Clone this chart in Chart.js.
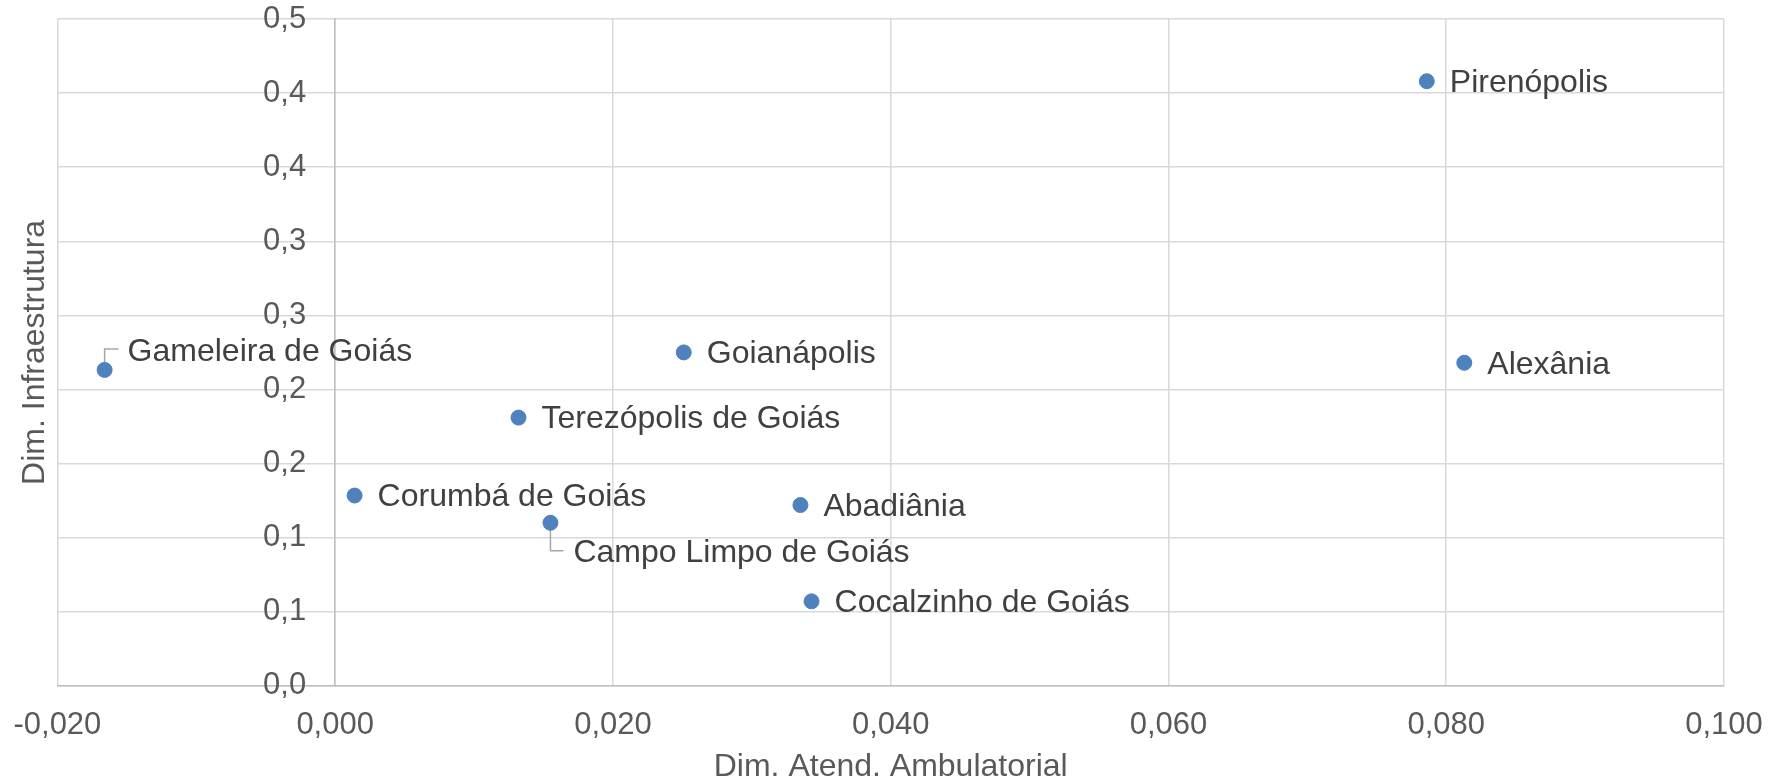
<!DOCTYPE html>
<html>
<head>
<meta charset="utf-8">
<script src="https://cdn.jsdelivr.net/npm/chart.js@4"></script>
<style>
  html, body { margin: 0; padding: 0; background: #fff; }
  #wrap { width: 1783px; height: 783px; position: relative; }
</style>
</head>
<body>
<div id="wrap"><canvas id="myChart"></canvas></div>
<script>
// municipalities and their scores
const cities = [
    'Pirenópolis', 'Alexânia', 'Gameleira de Goiás', 'Goianápolis',
    'Terezópolis de Goiás', 'Corumbá de Goiás', 'Campo Limpo de Goiás',
    'Abadiânia', 'Cocalzinho de Goiás'
];
const atendAmbulatorial = [0.0786, 0.0813, -0.0166, 0.0251, 0.0132, 0.0014, 0.0155, 0.0335, 0.0343];
const infraestrutura    = [0.408, 0.218, 0.2132, 0.225, 0.181, 0.1284, 0.110, 0.122, 0.057];

// tick labels as printed on the axes
const xTickLabels = ['-0,020', '0,000', '0,020', '0,040', '0,060', '0,080', '0,100'];
const yTickLabels = ['0,0', '0,1', '0,1', '0,2', '0,2', '0,3', '0,3', '0,4', '0,4', '0,5'];

const FONT = "'Liberation Sans', Arial, sans-serif";

// label placement: default is right of the point, a couple are moved with a leader line
const labelOffsets = {
    'Gameleira de Goiás': { dx: 23, dy: -18, leader: [[0, 0], [0, -21], [14, -21]] },
    'Campo Limpo de Goiás': { dx: 23, dy: 30, leader: [[0, 0], [0, 28], [13, 28]] }
};

// y axis crosses at x = 0, Chart.js ignores tick padding there so labels are drawn here
const yAxisLabels = {
    id: 'yAxisLabels',
    afterDraw(chart) {
        const ctx = chart.ctx;
        const xs = chart.scales.x;
        const ys = chart.scales.y;
        const axisX = xs.getPixelForValue(0);
        ctx.save();
        ctx.font = '31px ' + FONT;
        ctx.fillStyle = '#595959';
        ctx.textAlign = 'right';
        ctx.textBaseline = 'middle';
        ys.ticks.forEach((t, i) => {
            ctx.fillText(yTickLabels[i], axisX - 29, ys.getPixelForValue(t.value));
        });
        ctx.restore();
    }
};

const pointLabels = {
    id: 'pointLabels',
    beforeDatasetsDraw(chart) {
        const ctx = chart.ctx;
        const meta = chart.getDatasetMeta(0);
        ctx.save();
        ctx.strokeStyle = '#a6a6a6';
        ctx.lineWidth = 1.5;
        meta.data.forEach((pt, i) => {
            const off = labelOffsets[cities[i]];
            if (!off) return;
            ctx.beginPath();
            off.leader.forEach(([lx, ly], k) => {
                if (k === 0) ctx.moveTo(pt.x + lx, pt.y + ly);
                else ctx.lineTo(pt.x + lx, pt.y + ly);
            });
            ctx.stroke();
        });
        ctx.restore();
    },
    afterDatasetsDraw(chart) {
        const ctx = chart.ctx;
        const meta = chart.getDatasetMeta(0);
        ctx.save();
        ctx.font = '32px ' + FONT;
        ctx.fillStyle = '#404040';
        ctx.textAlign = 'left';
        ctx.textBaseline = 'middle';
        meta.data.forEach((pt, i) => {
            const off = labelOffsets[cities[i]] || { dx: 23, dy: 2 };
            ctx.fillText(cities[i], pt.x + off.dx, pt.y + off.dy);
        });
        ctx.restore();
    }
};

const chart = new Chart(document.getElementById('myChart'), {
    type: 'scatter',
    data: {
        datasets: [{
            label: 'Municípios',
            data: cities.map((c, i) => ({ x: atendAmbulatorial[i], y: infraestrutura[i] })),
            backgroundColor: '#4f81bd',
            borderColor: '#4f81bd',
            pointRadius: 7.5,
            pointHoverRadius: 7.5,
            xAxisID: 'x',
            yAxisID: 'y'
        }]
    },
    options: {
        responsive: true,
        maintainAspectRatio: false,
        animation: false,
        layout: {
            padding: { top: 19, right: 59, bottom: 0, left: 0 }
        },
        plugins: {
            legend: { display: false },
            tooltip: { enabled: false }
        },
        scales: {
            x: {
                type: 'linear',
                position: 'bottom',
                min: -0.02,
                max: 0.1,
                ticks: {
                    stepSize: 0.02,
                    padding: 0,
                    color: '#595959',
                    font: { family: FONT, size: 31 },
                    maxRotation: 0,
                    callback: (value, index) => xTickLabels[index]
                },
                grid: {
                    color: '#d9d9d9', lineWidth: 1.5,
                    drawTicks: true, tickLength: 21, tickColor: 'rgba(0,0,0,0)'
                },
                border: { display: true, color: '#bfbfbf', width: 1.5 },
                title: {
                    display: true,
                    text: 'Dim. Atend. Ambulatorial',
                    color: '#595959',
                    font: { family: FONT, size: 32, lineHeight: 1 },
                    padding: { top: 7, bottom: 0 }
                }
            },
            y: {
                type: 'linear',
                position: { x: 0 },
                min: 0,
                max: 0.45,
                ticks: { stepSize: 0.05, display: false },
                grid: { color: '#d9d9d9', lineWidth: 1.5, drawTicks: false },
                border: { display: true, color: '#bfbfbf', width: 1.5 }
            },
            yTitle: {
                type: 'linear',
                position: 'left',
                ticks: { display: false },
                grid: { display: false, drawTicks: false },
                border: { display: false },
                title: {
                    display: true,
                    text: 'Dim. Infraestrutura',
                    color: '#595959',
                    font: { family: FONT, size: 32 },
                    padding: { top: 16, bottom: 3 }
                }
            }
        }
    },
    plugins: [pointLabels, yAxisLabels]
});
</script>
</body>
</html>
